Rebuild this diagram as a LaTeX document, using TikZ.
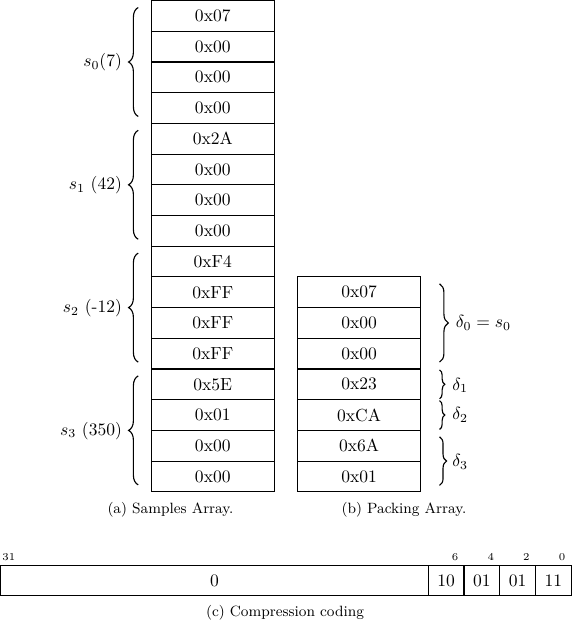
\documentclass[tikz,border=0pt]{standalone}
\usetikzlibrary{decorations.pathreplacing,calc}
\begin{document}
\begin{tikzpicture}[x=0.571pt,y=0.571pt,
  cell/.style={draw, line width=0.65pt, inner sep=0pt, minimum width=70.2pt, minimum height=17.53pt, font=\fontsize{10}{12}\selectfont},
  bcell/.style={draw, line width=0.65pt, inner sep=0pt, minimum height=17.13pt, font=\fontsize{10}{12}\selectfont},
  bigbrace/.style={decorate, decoration={brace, amplitude=5.5pt}, line width=0.65pt},
  midbrace/.style={decorate, decoration={brace, amplitude=5pt}, line width=0.65pt},
  smallbrace/.style={decorate, decoration={brace, amplitude=3pt}, line width=0.65pt},
  lbl/.style={inner sep=0pt, font=\fontsize{10}{12}\selectfont},
  captext/.style={inner sep=0pt, font=\fontsize{8.5}{10}\selectfont},
  bitlbl/.style={inner sep=0pt, font=\fontsize{6}{7}\selectfont}]
\useasboundingbox (0,0) rectangle (572,-622);
% Samples array
\foreach \v [count=\i from 0] in {0x07,0x00,0x00,0x00,0x2A,0x00,0x00,0x00,0xF4,0xFF,0xFF,0xFF,0x5E,0x01,0x00,0x00}
  \node[cell] (L\i) at (212.75,{-(0.6+30.7*(\i+0.5))}) {\v};
% Packing array
\foreach \v [count=\i from 9] in {0x07,0x00,0x00,0x23,0xCA,0x6A,0x01}
  \node[cell] (R\i) at (359,{-(0.6+30.7*(\i+0.5))}) {\v};
% left braces
\draw[bigbrace] ($(L3.south west)+(-12.5,7.5)$) -- ($(L0.north west)+(-12.5,-7.5)$);
\draw[bigbrace] ($(L7.south west)+(-12.5,7.5)$) -- ($(L4.north west)+(-12.5,-7.5)$);
\draw[bigbrace] ($(L11.south west)+(-12.5,7.5)$) -- ($(L8.north west)+(-12.5,-7.5)$);
\draw[bigbrace] ($(L15.south west)+(-12.5,7.5)$) -- ($(L12.north west)+(-12.5,-7.5)$);
\node[lbl, anchor=east] (s0) at ($(L1.south west)+(-28.5,0)$) {$s_0(7)$};
\node[lbl, anchor=east] (s1) at ($(L5.south west)+(-28.5,0)$) {$s_1$ (42)};
\node[lbl, anchor=east] (s2) at ($(L9.south west)+(-28.5,0)$) {$s_2$ (-12)};
\node[lbl, anchor=east] (s3) at ($(L13.south west)+(-28.5,0)$) {$s_3$ (350)};
% right braces
\draw[midbrace] ($(R9.north east)+(18.5,-7.5)$) -- ($(R11.south east)+(18.5,7.5)$);
\draw[smallbrace] ($(R12.north east)+(18.5,-1.5)$) -- ($(R12.south east)+(18.5,1.5)$);
\draw[smallbrace] ($(R13.north east)+(18.5,-1.5)$) -- ($(R13.south east)+(18.5,1.5)$);
\draw[decorate, decoration={brace, amplitude=4pt}, line width=0.65pt] ($(R14.north east)+(18.5,-7)$) -- ($(R15.south east)+(18.5,7)$);
\node[lbl, anchor=west] (d0) at ($(R10.east)+(34.5,0)$) {$\delta_0 = s_0$};
\node[lbl, anchor=west] (d1) at ($(R12.east)+(31,-1)$) {$\delta_1$};
\node[lbl, anchor=west] (d2) at ($(R13.east)+(31,0)$) {$\delta_2$};
\node[lbl, anchor=west] (d3) at ($(R14.south east)+(31,0)$) {$\delta_3$};
% captions
\node[captext] (capa) at (170.5,-509.5) {(a) Samples Array.};
\node[captext] (capb) at (404,-510) {(b) Packing Array.};
% compression coding bar
\node[bcell, minimum width=244.2pt] (B0) at (214.45,-580.7) {0};
\node[bcell, minimum width=20.38pt] (B1) at (446.15,-580.7) {10};
\node[bcell, minimum width=20.38pt] (B2) at (481.85,-580.7) {01};
\node[bcell, minimum width=20.38pt] (B3) at (517.55,-580.7) {01};
\node[bcell, minimum width=20.38pt] (B4) at (553.25,-580.7) {11};
\node[bitlbl] (b31) at (8.9,-556.7) {31};
\node[bitlbl] (b6) at (455,-556.7) {6};
\node[bitlbl] (b4) at (490.7,-556.7) {4};
\node[bitlbl] (b2) at (526.4,-556.7) {2};
\node[bitlbl] (b0) at (562.1,-556.7) {0};
\node[captext] (capc) at (285,-613) {(c) Compression coding};
\end{tikzpicture}
\end{document}
